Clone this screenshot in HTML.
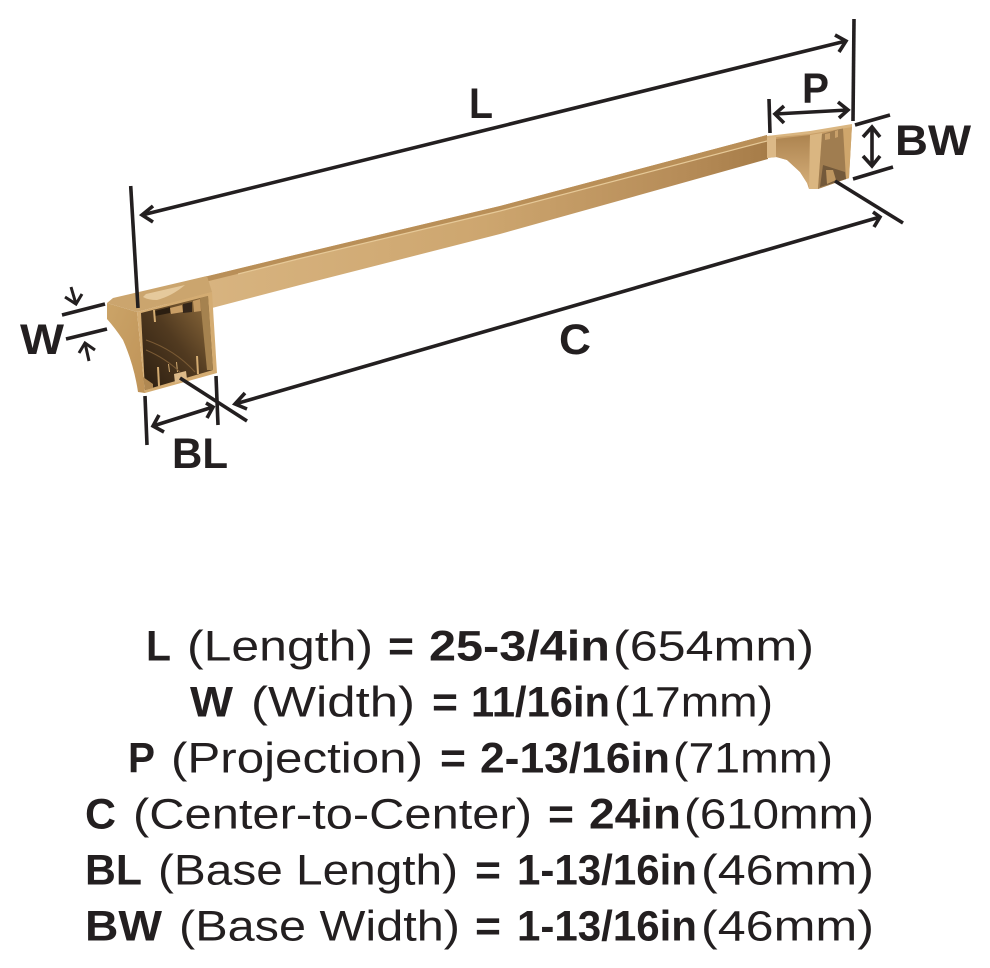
<!DOCTYPE html>
<html><head><meta charset="utf-8"><style>
html,body{margin:0;padding:0;background:#fff}
svg{display:block}
.t text{font-family:"Liberation Sans",sans-serif;font-size:43px;fill:#231f20}
.t .b{font-weight:bold}
.d text{font-family:"Liberation Sans",sans-serif;font-weight:bold;fill:#231f20}
</style></head><body>
<svg width="990" height="968" viewBox="0 0 990 968" xmlns="http://www.w3.org/2000/svg">
<defs>
<linearGradient id="bar" gradientUnits="userSpaceOnUse" x1="200" y1="0" x2="768" y2="0"><stop offset="0" stop-color="#d8b480"/><stop offset=".5" stop-color="#cda66f"/><stop offset=".85" stop-color="#b68c58"/><stop offset="1" stop-color="#a67c48"/></linearGradient>
<linearGradient id="in" x1="0" y1="1" x2="1" y2="0"><stop offset="0" stop-color="#2a1d10"/><stop offset=".5" stop-color="#513a20"/><stop offset="1" stop-color="#94703f"/></linearGradient>
<linearGradient id="side" x1="0" y1="0" x2="1" y2="1"><stop offset="0" stop-color="#cba468"/><stop offset="1" stop-color="#bf9358"/></linearGradient>
<linearGradient id="rf" x1="0" y1="0" x2="0" y2="1"><stop offset="0" stop-color="#ad8450"/><stop offset="1" stop-color="#d4ad78"/></linearGradient>
</defs>

<!-- bar -->
<polygon points="113,299 300,253.7 500,206 767,135 768,159 500,234 300,285 212,308" fill="url(#bar)"/>
<polygon points="113,299 300,253.7 500,206 767,135 767,141 500,211 300,258.5 140,298" fill="#b98f58"/>
<polyline points="238,274 300,258.5 500,211 767,141" fill="none" stroke="#e6c998" stroke-width="1.2"/>

<!-- left bracket -->
<path d="M107,303 L137,312 L145,393 L138,392 Q134,365 123,340 Q115,328 107,319 Z" fill="url(#side)"/>
<polygon points="107,303 113,298 207,276 212,292 137,312" fill="#cba56e"/>
<path d="M143,297 L146,294 L185,285 Q172,296 157,300 Q148,300 143,297 Z" fill="#e5c99c"/>
<polygon points="137,312 212,292 217,373 145,393" fill="#d4ac72"/>
<polygon points="141,313 208,296 213,370 145,390" fill="url(#in)"/>
<polygon points="200,298 208,296 213,370 207,370" fill="#a5824f"/>
<polygon points="193,301 200,299 201,311 194,312" fill="#c49a62"/>
<polygon points="170,308 182,305 183,312 171,314" fill="#c99e65"/>
<polygon points="155,311 170,307 170,313 155,316" fill="#2b1e11"/>
<polygon points="183,304 192,302 192,312 183,313" fill="#34261a"/>
<polygon points="153,310 155,310 156,322 154,322" fill="#d4ac72"/>
<polygon points="157,367 159,367 160,386 158,386" fill="#d4ac72"/>
<polygon points="168,364 169,364 170,372 169,372" fill="#d4ac72"/>
<polygon points="176,362 177,362 178,372 177,372" fill="#d4ac72"/>
<polygon points="196,356 198,356 199,374 197,374" fill="#d4ac72"/>
<polygon points="174,374 186,371 187,379 175,383" fill="#dcb988"/>
<polygon points="143,377 153,384 153,388 145,390" fill="#b08852"/>
<g stroke="#7a5a34" stroke-width="1" fill="none"><path d="M146,340 Q175,350 195,372"/><path d="M146,350 Q165,358 180,372"/></g>

<!-- right bracket -->
<path d="M767,136 L810,133 L852,125 L849,178 L818,189 L809,189 L807,183 L800,172 L787,160 L777,157 L767,158 Z" fill="#c99f68"/>
<polygon points="767,136 776,137 776,157 767,158" fill="#dcb987"/>
<path d="M776,139 L810,135 L809,186 L800,172 L787,160 L776,157 Z" fill="url(#rf)"/>
<polygon points="810,135 822,133 818,189 809,189" fill="#dab681"/>
<polygon points="822,134 843,128 849,178 818,189" fill="#a07d50"/>
<polygon points="843,128 852,125 849,178 846,179" fill="#cfa66c"/>
<polygon points="825,134 830,133 830,139 825,140" fill="#c9a06a"/>
<polygon points="835,131 838,130 838,137 835,138" fill="#c9a06a"/>
<polygon points="823,165 845,172 846,179 820,187" fill="#73593a"/>
<polygon points="826,170 833,170 836,180 827,184" fill="#bd9660"/>
<polygon points="767,136 810,131 852,124 852,127 810,134 767,138" fill="#dab681"/>

<!-- dimension lines -->
<g stroke="#231f20" stroke-width="3.6" fill="none">
<line x1="130.7" y1="186" x2="138" y2="308"/>
<line x1="854" y1="19" x2="853" y2="121"/>
<line x1="142" y1="215" x2="846" y2="41"/>
<polyline points="153,206 142,215 153,222"/>
<polyline points="835,35 846,41 839,52"/>
<line x1="62" y1="315" x2="105" y2="304"/>
<line x1="66" y1="339" x2="107" y2="329"/>
<line x1="71" y1="287" x2="76" y2="304" stroke-width="3"/>
<polyline points="65,297 76,304 82,294" stroke-width="3"/>
<line x1="89" y1="361" x2="85" y2="343" stroke-width="3"/>
<polyline points="79,353 85,343 95,350" stroke-width="3"/>
<line x1="145" y1="396" x2="147" y2="445"/>
<line x1="216" y1="376" x2="218" y2="425"/>
<line x1="153" y1="426" x2="213" y2="407"/>
<polyline points="164,432 153,426 159,415"/>
<polyline points="206,403 213,407 207,418"/>
<line x1="180" y1="378" x2="247" y2="421"/>
<line x1="235" y1="404" x2="880" y2="217"/>
<polyline points="247,409 235,404 245,393"/>
<polyline points="873,212 880,217 874,227"/>
<line x1="769" y1="99" x2="770" y2="133"/>
<line x1="775" y1="114" x2="848" y2="110"/>
<polyline points="784,106 775,114 784,123"/>
<polyline points="838,102 848,110 839,118"/>
<line x1="855" y1="125" x2="890" y2="115"/>
<line x1="853" y1="179" x2="893" y2="167"/>
<line x1="872" y1="127" x2="872" y2="165"/>
<polyline points="863,137 872,127 880,137"/>
<polyline points="863,156 872,166 880,156"/>
<line x1="835" y1="181" x2="903" y2="223"/>
</g>

<!-- diagram labels -->
<g class="d" font-size="43">
<text x="469" y="118" textLength="24" lengthAdjust="spacingAndGlyphs">L</text>
<text x="559" y="354" textLength="32" lengthAdjust="spacingAndGlyphs">C</text>
<text x="802" y="103" textLength="27" lengthAdjust="spacingAndGlyphs">P</text>
<text x="895" y="155" textLength="76" lengthAdjust="spacingAndGlyphs">BW</text>
<text x="20" y="354" textLength="44" lengthAdjust="spacingAndGlyphs">W</text>
<text x="172" y="468" textLength="56" lengthAdjust="spacingAndGlyphs">BL</text>
</g>

<!-- spec text -->
<g class="t">
<text class="b" x="146" y="660.5" textLength="25" lengthAdjust="spacingAndGlyphs">L</text>
<text x="187" y="660.5" textLength="186" lengthAdjust="spacingAndGlyphs">(Length)</text>
<text class="b" x="388" y="660.5" textLength="26" lengthAdjust="spacingAndGlyphs">=</text>
<text class="b" x="429" y="660.5" textLength="181" lengthAdjust="spacingAndGlyphs">25-3/4in</text>
<text x="613" y="660.5" textLength="201" lengthAdjust="spacingAndGlyphs">(654mm)</text>

<text class="b" x="190" y="716.5" textLength="43" lengthAdjust="spacingAndGlyphs">W</text>
<text x="251" y="716.5" textLength="164" lengthAdjust="spacingAndGlyphs">(Width)</text>
<text class="b" x="432" y="716.5" textLength="26" lengthAdjust="spacingAndGlyphs">=</text>
<text class="b" x="471" y="716.5" textLength="139" lengthAdjust="spacingAndGlyphs">11/16in</text>
<text x="614" y="716.5" textLength="159" lengthAdjust="spacingAndGlyphs">(17mm)</text>

<text class="b" x="128" y="772.5" textLength="27" lengthAdjust="spacingAndGlyphs">P</text>
<text x="171" y="772.5" textLength="252" lengthAdjust="spacingAndGlyphs">(Projection)</text>
<text class="b" x="440" y="772.5" textLength="26" lengthAdjust="spacingAndGlyphs">=</text>
<text class="b" x="480" y="772.5" textLength="190" lengthAdjust="spacingAndGlyphs">2-13/16in</text>
<text x="673" y="772.5" textLength="160" lengthAdjust="spacingAndGlyphs">(71mm)</text>

<text class="b" x="85" y="828.5" textLength="31" lengthAdjust="spacingAndGlyphs">C</text>
<text x="133" y="828.5" textLength="399" lengthAdjust="spacingAndGlyphs">(Center-to-Center)</text>
<text class="b" x="548" y="828.5" textLength="26" lengthAdjust="spacingAndGlyphs">=</text>
<text class="b" x="589" y="828.5" textLength="92" lengthAdjust="spacingAndGlyphs">24in</text>
<text x="684" y="828.5" textLength="190" lengthAdjust="spacingAndGlyphs">(610mm)</text>

<text class="b" x="85" y="884.5" textLength="57" lengthAdjust="spacingAndGlyphs">BL</text>
<text x="158" y="884.5" textLength="300" lengthAdjust="spacingAndGlyphs">(Base Length)</text>
<text class="b" x="475" y="884.5" textLength="26" lengthAdjust="spacingAndGlyphs">=</text>
<text class="b" x="517" y="884.5" textLength="180" lengthAdjust="spacingAndGlyphs">1-13/16in</text>
<text x="701" y="884.5" textLength="173" lengthAdjust="spacingAndGlyphs">(46mm)</text>

<text class="b" x="85" y="940.5" textLength="77" lengthAdjust="spacingAndGlyphs">BW</text>
<text x="179" y="940.5" textLength="281" lengthAdjust="spacingAndGlyphs">(Base Width)</text>
<text class="b" x="475" y="940.5" textLength="26" lengthAdjust="spacingAndGlyphs">=</text>
<text class="b" x="517" y="940.5" textLength="180" lengthAdjust="spacingAndGlyphs">1-13/16in</text>
<text x="701" y="940.5" textLength="173" lengthAdjust="spacingAndGlyphs">(46mm)</text>
</g>
</svg>
</body></html>
